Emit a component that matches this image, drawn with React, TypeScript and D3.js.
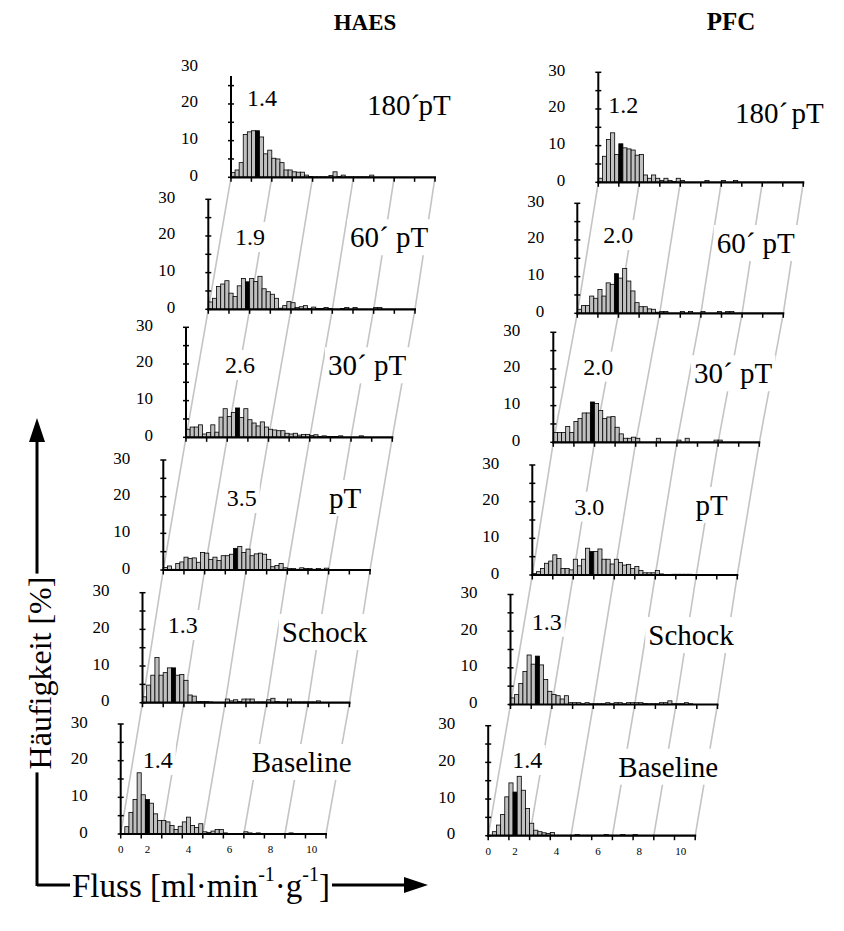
import React, { useEffect, useRef } from "react";
import * as d3 from "d3";

// ---------- data ----------
const BIN_WIDTH = 0.2;
const groupTitles = ["HAES", "PFC"];
const panelNames = ["180´ pT", "60´ pT", "30´ pT", "pT", "Schock", "Baseline"];
const haesMedians = ["1.4", "1.9", "2.6", "3.5", "1.3", "1.4"];
const pfcMedians = ["1.2", "2.0", "2.0", "3.0", "1.3", "1.4"];
const haesMedianBin = [6, 9, 12, 17, 7, 6];
const pfcMedianBin = [5, 9, 9, 14, 6, 6];
const yTickLabels = [0, 10, 20, 30];
const xTickLabels = [0, 2, 4, 6, 8, 10];

// frequency [%] per 0.2 flow bin, starting at 0
const haes180 = [1.3, 2, 4, 11.7, 12.4, 12.7, 12.7, 11, 6.4, 7.4, 5.2, 5, 4, 2, 2, 1.5, 1.4, 1.4, 0.6, 0.2, 0.1, 0.1, 0.1, 0.1, 0.5, 1.5, 0.2, 0.6, 0.1, 0.1, 0.1, 0.1, 0.1, 0.1, 0.6];
const haes60 = [2, 3, 6.2, 6.9, 7.8, 4.4, 3.5, 6.4, 8.4, 7.5, 8.4, 7.6, 9, 5.6, 4.8, 4.1, 3, 0.3, 1, 2.1, 1.8, 0.5, 0.7, 1, 0.2, 0.6, 0.2, 0.2, 0.5, 0.2, 0, 0, 0.2, 0.5, 0, 0.5, 0, 0, 0, 0, 0.5, 0.5];
const haes30 = [2.2, 2.8, 2.8, 3.4, 0.9, 1.3, 3.4, 1.4, 5.5, 7.8, 5.7, 6.8, 8.0, 5.4, 7.8, 4.8, 3.9, 3.1, 4.2, 2.8, 2.2, 2, 1.8, 1.8, 1.1, 0.9, 1.1, 0.6, 0.8, 0.8, 0.5, 0.7, 0.2, 0.4, 0.2, 0.2, 0.2, 0.4, 0, 0, 0, 0, 0.4];
const haesPT = [0.7, 1.1, 0.2, 1.8, 2.2, 3.5, 3.1, 3.3, 2.1, 4.8, 4.6, 2.9, 3.5, 2.6, 3.9, 3.9, 4.3, 5.9, 6.4, 4.8, 5.7, 3.9, 4.4, 4.6, 4.3, 2.9, 0.9, 1.2, 1.8, 0.6, 0.4, 0.4, 0.2, 0.6, 0.4, 0.4, 0.2, 0.4, 0.2, 0.5];
const haesSchock = [1.6, 4.8, 7.5, 12.3, 7.5, 8.2, 9.5, 9.5, 7.5, 7.7, 6.1, 2.1, 1.8, 0.3, 0.3, 0.3, 0.2, 0.1, 0.1, 0.1, 1, 0.5, 0.8, 0.3, 1, 1, 1, 0.2, 0.2, 0.2, 0.8, 1.2, 0.3, 0.2, 0.2, 1, 0.2, 0.2, 0.2, 0.2, 0.2, 0.2, 0.5];
const haesBaseline = [0, 2, 5.9, 9.4, 16.7, 10.7, 9.4, 8.4, 5.5, 3.7, 3.7, 3.3, 2.3, 1.2, 2.1, 3.3, 4.6, 2.3, 1.8, 2.8, 0.6, 0.4, 0.8, 1.2, 1.2, 0.3, 0.1, 0.1, 0.1, 0.1, 0.6, 0.3, 0.1, 0.3, 0.1, 0.1, 0.1, 0.1, 0.1, 0.1, 0.1, 0.3];
const pfc180 = [1.1, 7.1, 11.7, 13.5, 7.6, 10.5, 9.4, 9.1, 8.8, 7.4, 7.6, 2, 1.1, 2, 1.1, 0.5, 1.1, 0.5, 0.2, 1.1, 0.5, 0, 0, 0, 0, 0, 0.5, 0, 0, 0, 0.5, 0, 0, 0.5];
const pfc60 = [1.1, 2.1, 2.1, 4.7, 4.1, 6.5, 4.7, 8.3, 7.9, 10.8, 9.6, 12.2, 8.8, 6.1, 2.9, 1.8, 1.8, 1.2, 1.1, 0.3, 0.5, 0.5, 0, 0, 0, 0.5, 0, 0.5, 0, 0, 0.5, 0, 0, 0, 0.5, 0, 0.5, 0.5];
const pfc30 = [2.7, 2.7, 2.7, 4.3, 2.7, 5.7, 6.5, 8, 8, 11, 10.6, 8.7, 6.5, 6.9, 7, 4.1, 2.3, 1.1, 1.1, 1.4, 1.1, 0, 0, 0, 0, 1.1, 0, 0, 0, 0, 0.6, 0, 1.1, 0, 0, 0, 0, 0, 0, 0.6, 0.6];
const pfcPT = [0.4, 0.9, 1.8, 3.2, 3.8, 5.5, 4.5, 1.8, 1.8, 1.4, 4.3, 2.5, 4.3, 7.3, 6.4, 6.4, 7.1, 4.3, 4.3, 3, 4.3, 3.4, 2.7, 2.9, 1.8, 2.3, 1.2, 0.6, 0.6, 0.6, 1.2, 0.3, 0.1, 0.1, 0.2, 0.2, 0.2, 0.2, 0.2];
const pfcSchock = [1.8, 2.7, 5.7, 9, 13.5, 11, 13.2, 10.8, 6.8, 3.6, 2.7, 2.4, 1.5, 2.4, 0.5, 0.5, 0.5, 0.2, 0.5, 0.2, 0.2, 0.2, 0.2, 0.5, 0.2, 0.5, 0.5, 0.2, 0.5, 0.5, 0.5, 0.5, 0.3, 0.2, 0.2, 0.2, 0.5, 0.5, 1.0, 0.2, 0.2, 0.2, 0.5, 0.2];
const pfcBaseline = [0, 1.1, 2.9, 5.8, 10.6, 14.4, 11.9, 16.2, 12.4, 7.4, 3.4, 1.5, 1.1, 0.8, 0.6, 0.9, 0.1, 0.1, 0.1, 0.1, 0.1, 0.3, 0.1, 0.1, 0.1, 0.1, 0.1, 0.1, 0.3, 0.1, 0.1, 0.1, 0.3, 0.1, 0.1, 0.3];

const haesSeries = [haes180, haes60, haes30, haesPT, haesSchock, haesBaseline];
const pfcSeries = [pfc180, pfc60, pfc30, pfcPT, pfcSchock, pfcBaseline];

// ---------- layout (pixel placement of each sub-panel) ----------
type Box = { x0: number; y0: number; w: number; axisTop?: number; vdx: number; vdy: number; ndx: number; ndy: number; nAnchor?: string };
const haesLayout: Box[] = [
  { x0: 231, y0: 177.3, w: 204, axisTop: 27.6, vdx: 31, vdy: -79, ndx: 136, ndy: -72 },
  { x0: 208.3, y0: 309.3, w: 206.7, vdx: 41.7, vdy: -72.3, ndx: 141.7, ndy: -72 },
  { x0: 186, y0: 437.3, w: 206.3, vdx: 54, vdy: -72.3, ndx: 142, ndy: -72 },
  { x0: 163.3, y0: 570, w: 206.7, vdx: 78.4, vdy: -72, ndx: 181.7, ndy: -72, nAnchor: "middle" },
  { x0: 142.5, y0: 702.7, w: 207, vdx: 40.3, vdy: -77.7, ndx: 139.3, ndy: -70.7 },
  { x0: 120.7, y0: 834, w: 205.3, vdx: 37, vdy: -74, ndx: 131, ndy: -72 },
];
const pfcLayout: Box[] = [
  { x0: 598.3, y0: 182.3, w: 205, vdx: 25, vdy: -77.3, ndx: 136.7, ndy: -69.3 },
  { x0: 577.3, y0: 313.3, w: 206, vdx: 41, vdy: -78.3, ndx: 139.4, ndy: -70.3 },
  { x0: 553.3, y0: 442.3, w: 206, vdx: 45, vdy: -75.6, ndx: 140.7, ndy: -69 },
  { x0: 532.3, y0: 575, w: 205, vdx: 57, vdy: -68.3, ndx: 179.4, ndy: -70, nAnchor: "middle" },
  { x0: 510.5, y0: 704.5, w: 207, vdx: 36.2, vdy: -82.8, ndx: 137.8, ndy: -69.5 },
  { x0: 488.2, y0: 835.7, w: 207, vdx: 39.1, vdy: -75.7, ndx: 130.1, ndy: -69 },
];
const PANEL_H = 110;
const FONT = "'Liberation Serif', 'Times New Roman', serif";

export default function App() {
  const ref = useRef<SVGSVGElement>(null);

  useEffect(() => {
    const svg = d3.select(ref.current);
    svg.selectAll("*").remove();
    svg.append("rect").attr("width", 844).attr("height", 931).attr("fill", "white");

    const gLines = svg.append("g");
    const gText = svg.append("g");
    const gPlots = svg.append("g");

    const groups = [
      { layout: haesLayout, series: haesSeries, medians: haesMedians, black: haesMedianBin },
      { layout: pfcLayout, series: pfcSeries, medians: pfcMedians, black: pfcMedianBin },
    ];

    const labelWithBg = (x: number, y: number, text: string, size: number, anchor: string, wordSpacing = 0) => {
      const g = gText.append("g");
      const bg = g.append("rect").attr("fill", "white");
      const t = g
        .append("text")
        .attr("x", x)
        .attr("y", y)
        .attr("font-family", FONT)
        .attr("font-size", size)
        .attr("text-anchor", anchor)
        .attr("dominant-baseline", "central")
        .attr("word-spacing", wordSpacing)
        .attr("fill", "black")
        .text(text);
      const bb = (t.node() as SVGTextElement).getBBox();
      bg.attr("x", bb.x - 3).attr("y", bb.y - 2).attr("width", bb.width + 6).attr("height", bb.height + 4);
    };

    groups.forEach((grp, gi) => {
      const scales = grp.layout.map((b) => ({
        x: d3.scaleLinear().domain([0, 10]).range([b.x0, b.x0 + b.w]),
        y: d3.scaleLinear().domain([0, 30]).range([b.y0, b.y0 - PANEL_H]),
      }));

      // slanted grey guide lines connecting equal flow values between panels
      for (let i = 0; i < scales.length - 1; i++) {
        xTickLabels.forEach((v) => {
          gLines
            .append("line")
            .attr("x1", scales[i].x(v))
            .attr("y1", scales[i].y(0))
            .attr("x2", scales[i + 1].x(v))
            .attr("y2", scales[i + 1].y(0))
            .attr("stroke", "#c4c4c4")
            .attr("stroke-width", 1.6);
        });
      }

      grp.layout.forEach((b, i) => {
        const { x, y } = scales[i];
        // labels
        labelWithBg(b.x0 + b.vdx, b.y0 + b.vdy, grp.medians[i], 24, "middle");
        labelWithBg(b.x0 + b.ndx, b.y0 + b.ndy, panelNames[i], 29, b.nAnchor || "start", i === 0 ? (gi === 0 ? -9 : -4) : 0);

        const g = gPlots.append("g");
        const data = grp.series[i];
        const bw = x(BIN_WIDTH) - x(0);
        g.selectAll("rect.bar")
          .data(data.map((v, k) => ({ v, k })).filter((d) => d.v > 0))
          .join("rect")
          .attr("x", (d) => x(d.k * BIN_WIDTH))
          .attr("y", (d) => y(d.v))
          .attr("width", bw)
          .attr("height", (d) => y(0) - y(d.v))
          .attr("fill", (d) => (d.k === grp.black[i] ? "black" : "#c0c0c0"))
          .attr("stroke", "black")
          .attr("stroke-width", 0.8);

        // y axis
        const top = b.axisTop ?? 30;
        g.append("line")
          .attr("x1", x(0)).attr("x2", x(0))
          .attr("y1", y(0) + 1).attr("y2", y(top))
          .attr("stroke", "black").attr("stroke-width", 2);
        d3.range(0, top + 0.01, 5).forEach((t) => {
          g.append("line")
            .attr("x1", x(0) - 3).attr("x2", x(0) + 3)
            .attr("y1", y(t)).attr("y2", y(t))
            .attr("stroke", "black").attr("stroke-width", 1.5);
        });
        yTickLabels.forEach((t) => {
          g.append("text")
            .attr("x", x(0) - 33)
            .attr("y", y(t) - 2)
            .attr("text-anchor", "end")
            .attr("dominant-baseline", "central")
            .attr("font-family", FONT)
            .attr("font-size", 17)
            .text(t);
        });
        // x axis
        g.append("line")
          .attr("x1", x(0) - 1).attr("x2", x(10) + 1)
          .attr("y1", y(0)).attr("y2", y(0))
          .attr("stroke", "black").attr("stroke-width", 2.2);
        d3.range(0, 11).forEach((t) => {
          g.append("line")
            .attr("x1", x(t)).attr("x2", x(t))
            .attr("y1", y(0)).attr("y2", y(0) + 4.5)
            .attr("stroke", "black").attr("stroke-width", 1.5);
        });
        if (i === grp.layout.length - 1) {
          xTickLabels.forEach((t) => {
            g.append("text")
              .attr("x", t === 0 ? x(t) : x(t - 0.7))
              .attr("y", y(0) + 19)
              .attr("text-anchor", "middle")
              .attr("font-family", FONT)
              .attr("font-size", 11)
              .text(t);
          });
        }
      });
    });

    // column titles
    const titleX = [365, 731];
    groupTitles.forEach((t, i) => {
      svg.append("text")
        .attr("x", titleX[i]).attr("y", 30)
        .attr("text-anchor", "middle")
        .attr("font-family", FONT)
        .attr("font-weight", "bold")
        .attr("font-size", i === 0 ? 23 : 25)
        .text(t);
    });

    // axis arrows
    const ga = svg.append("g");
    ga.append("line").attr("x1", 37).attr("x2", 37).attr("y1", 886).attr("y2", 435)
      .attr("stroke", "black").attr("stroke-width", 3);
    ga.append("path").attr("d", "M37,418 L29,442 L45,442 Z").attr("fill", "black");
    ga.append("line").attr("x1", 37).attr("x2", 410).attr("y1", 885).attr("y2", 885)
      .attr("stroke", "black").attr("stroke-width", 3);
    ga.append("path").attr("d", "M428,885 L404,877 L404,893 Z").attr("fill", "black");

    // axis titles with white background
    const yt = ga.append("g").attr("transform", "translate(40,673) rotate(-90)");
    const ytBg = yt.append("rect").attr("fill", "white");
    const ytText = yt.append("text")
      .attr("x", 0).attr("y", 0)
      .attr("text-anchor", "middle")
      .attr("dominant-baseline", "central")
      .attr("font-family", FONT)
      .attr("font-size", 32)
      .text("Häufigkeit [%]");
    const yb = (ytText.node() as SVGTextElement).getBBox();
    ytBg.attr("x", yb.x - 3).attr("y", yb.y + 4).attr("width", yb.width + 6).attr("height", yb.height - 8);

    const xt = ga.append("g");
    const xtBg = xt.append("rect").attr("fill", "white");
    const xtText = xt.append("text")
      .attr("x", 201).attr("y", 886)
      .attr("text-anchor", "middle")
      .attr("dominant-baseline", "central")
      .attr("font-family", FONT)
      .attr("font-size", 33);
    xtText.append("tspan").text("Fluss [ml·min");
    xtText.append("tspan").attr("font-size", 20).attr("dy", -12).text("-1");
    xtText.append("tspan").attr("dy", 12).text("·g");
    xtText.append("tspan").attr("font-size", 20).attr("dy", -12).text("-1");
    xtText.append("tspan").attr("dy", 12).text("]");
    const xb = (xtText.node() as SVGTextElement).getBBox();
    xtBg.attr("x", xb.x - 2).attr("y", xb.y + 4).attr("width", xb.width + 4).attr("height", xb.height - 8);
  }, []);

  return (
    <svg
      ref={ref}
      width={844}
      height={931}
      style={{ position: "absolute", left: 0, top: 0, display: "block" }}
    />
  );
}
